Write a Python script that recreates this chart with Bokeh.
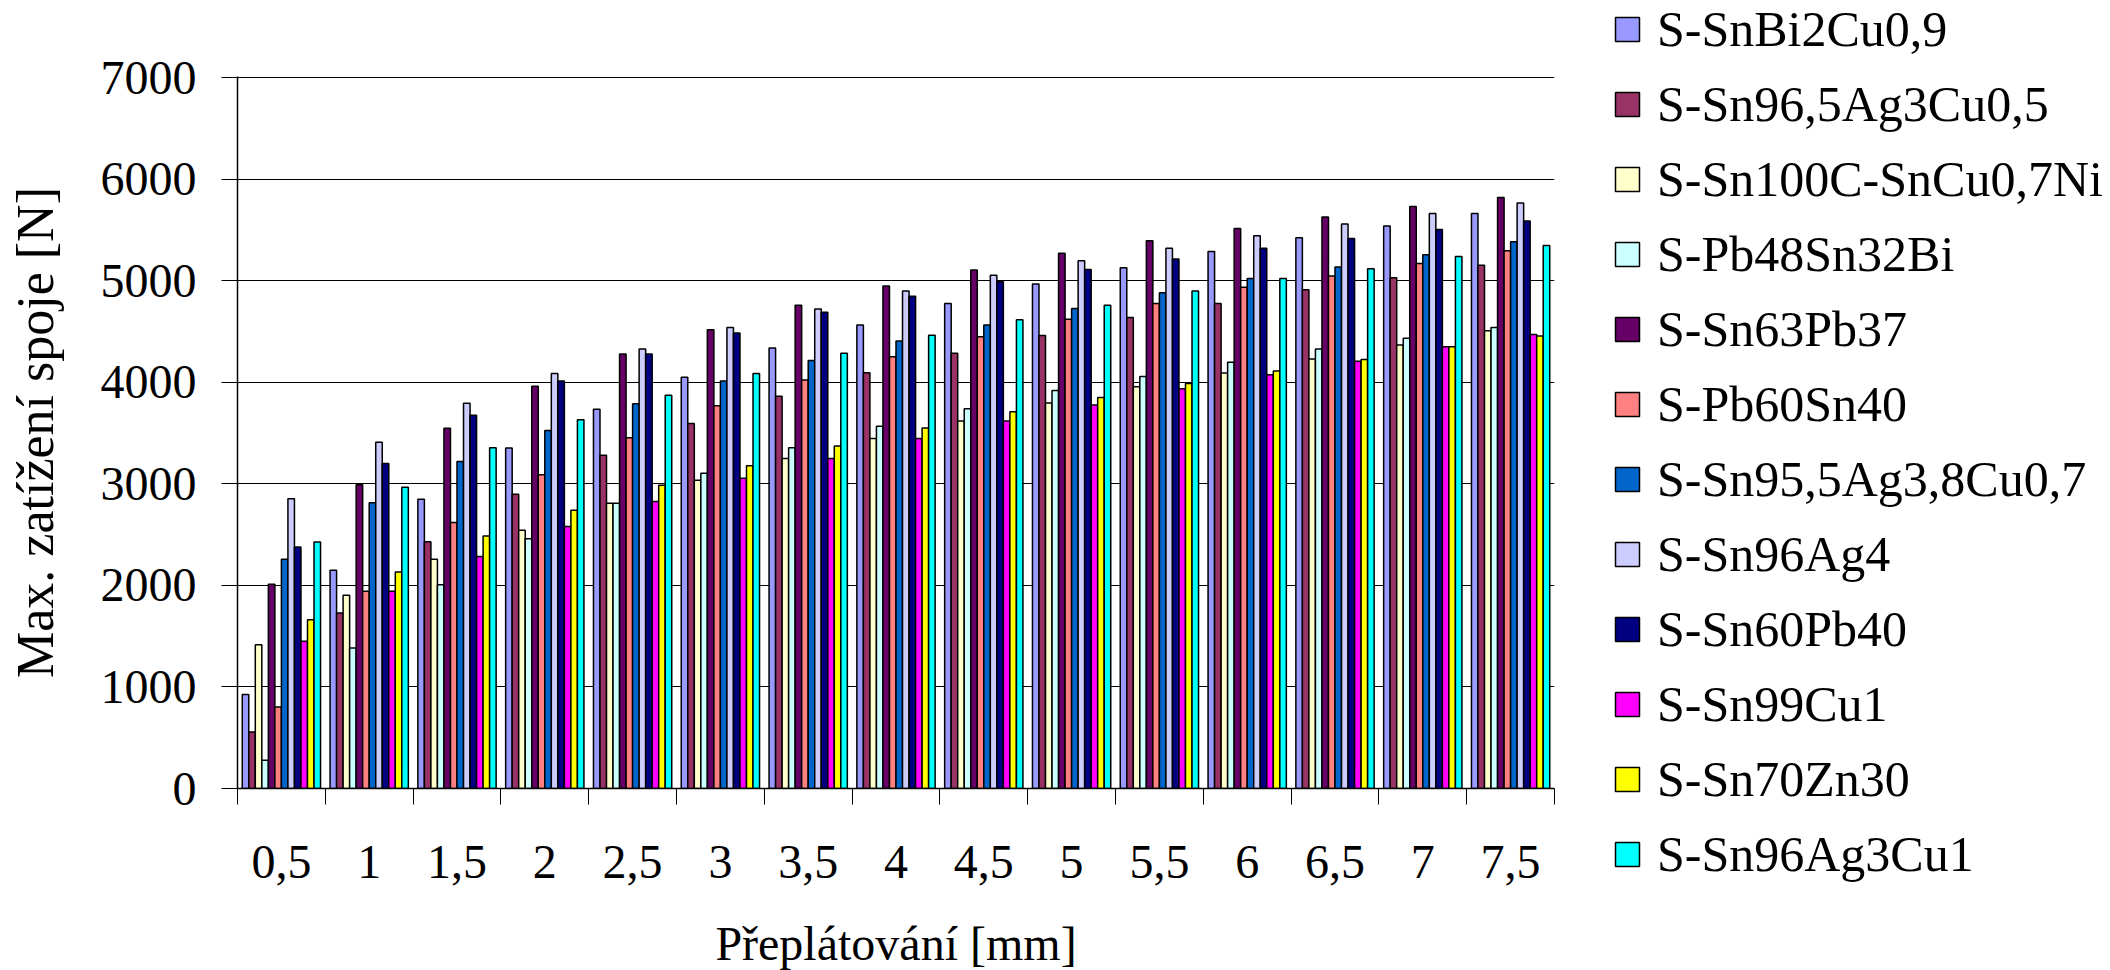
from bokeh.plotting import figure
from bokeh.models import (Range1d, FixedTicker, ColumnDataSource, Legend, LegendItem,
                          CustomJSTickFormatter)
from bokeh.transform import dodge
from bokeh.embed import file_html
from bokeh.resources import INLINE

categories = ["0,5", "1", "1,5", "2", "2,5", "3", "3,5", "4", "4,5", "5", "5,5", "6", "6,5", "7", "7,5"]

series_names = ["S-SnBi2Cu0,9", "S-Sn96,5Ag3Cu0,5", "S-Sn100C-SnCu0,7Ni", "S-Pb48Sn32Bi",
                "S-Sn63Pb37", "S-Pb60Sn40", "S-Sn95,5Ag3,8Cu0,7", "S-Sn96Ag4",
                "S-Sn60Pb40", "S-Sn99Cu1", "S-Sn70Zn30", "S-Sn96Ag3Cu1"]

SnBi2Cu09 = [925, 2148, 2849, 3352, 3735, 4049, 4337, 4563, 4774, 4967, 5127, 5286, 5422, 5538, 5660]
Sn965Ag3Cu05 = [557, 1728, 2430, 2897, 3280, 3594, 3863, 4093, 4285, 4461, 4637, 4776, 4910, 5029, 5151]
Sn100C_SnCu07Ni = [1416, 1902, 2256, 2543, 2808, 3034, 3249, 3445, 3618, 3796, 3955, 4090, 4228, 4366, 4508]
Pb48Sn32Bi = [279, 1384, 2007, 2458, 2808, 3103, 3355, 3566, 3739, 3918, 4057, 4196, 4328, 4433, 4538]
Sn63Pb37 = [2010, 2990, 3548, 3961, 4278, 4517, 4759, 4947, 5105, 5269, 5392, 5514, 5626, 5731, 5819]
Pb60Sn40 = [803, 1941, 2620, 3090, 3453, 3768, 4021, 4251, 4447, 4620, 4776, 4935, 5046, 5168, 5294]
Sn955Ag38Cu07 = [2256, 2813, 3220, 3525, 3787, 4013, 4213, 4405, 4563, 4727, 4882, 5020, 5134, 5256, 5382]
Sn96Ag4 = [2852, 3410, 3793, 4085, 4327, 4540, 4721, 4898, 5053, 5196, 5318, 5441, 5559, 5660, 5765]
Sn60Pb40 = [2377, 3200, 3675, 4013, 4278, 4484, 4688, 4846, 4989, 5110, 5212, 5318, 5416, 5504, 5588]
Sn99Cu1 = [1449, 1941, 2285, 2579, 2825, 3054, 3249, 3445, 3618, 3776, 3935, 4073, 4206, 4349, 4471]
Sn70Zn30 = [1662, 2131, 2485, 2740, 2985, 3178, 3373, 3550, 3709, 3849, 3988, 4110, 4223, 4349, 4454]
Sn96Ag3Cu1 = [2426, 2967, 3354, 3630, 3872, 4085, 4285, 4462, 4616, 4759, 4898, 5020, 5118, 5239, 5345]

series_values = [SnBi2Cu09, Sn965Ag3Cu05, Sn100C_SnCu07Ni, Pb48Sn32Bi, Sn63Pb37, Pb60Sn40,
                 Sn955Ag38Cu07, Sn96Ag4, Sn60Pb40, Sn99Cu1, Sn70Zn30, Sn96Ag3Cu1]

colors = ["#9999FF", "#993366", "#FFFFCC", "#CCFFFF", "#660066", "#FF8080",
          "#0066CC", "#CCCCFF", "#000080", "#FF00FF", "#FFFF00", "#00FFFF"]

y_ticks = [0, 1000, 2000, 3000, 4000, 5000, 6000, 7000]

FONT = "Liberation Serif"

n = len(categories)
x_centers = [i + 0.5 for i in range(n)]

p = figure(frame_width=1317, frame_height=712, output_backend="svg", toolbar_location=None,
           x_range=Range1d(0, n), y_range=Range1d(0, 7010),
           min_border_left=237, min_border_right=0, min_border_top=76, min_border_bottom=182)
p.outline_line_color = None
p.background_fill_color = "white"
p.border_fill_color = "white"

bar_w = 0.0743
items = []
for j, (name, vals) in enumerate(zip(series_names, series_values)):
    src = ColumnDataSource(dict(x=x_centers, top=vals))
    r = p.vbar(x=dodge("x", (j - 5.5) * bar_w), top="top", width=bar_w, source=src,
               fill_color=colors[j], line_color="black", line_width=1.5)
    items.append(LegendItem(label=name, renderers=[r]))

# axes
p.xgrid.visible = False
p.ygrid.grid_line_color = "black"
p.ygrid.grid_line_width = 1
p.yaxis.ticker = FixedTicker(ticks=y_ticks)
p.ygrid.ticker = FixedTicker(ticks=y_ticks)

p.xaxis.ticker = FixedTicker(ticks=x_centers, minor_ticks=list(range(n + 1)))
p.xaxis.formatter = CustomJSTickFormatter(args=dict(labels=categories),
                                          code="return labels[Math.floor(tick)];")
p.xaxis.major_tick_line_color = None
p.xaxis.major_tick_out = 0
p.xaxis.major_tick_in = 0
p.xaxis.minor_tick_out = 16
p.xaxis.minor_tick_in = 0
p.xaxis.minor_tick_line_color = "black"
p.xaxis.major_label_standoff = 41

p.yaxis.minor_tick_line_color = None
p.yaxis.major_tick_out = 16
p.yaxis.major_tick_in = 0
p.yaxis.major_label_standoff = 25

for ax in (p.xaxis[0], p.yaxis[0]):
    ax.axis_line_color = "black"
    ax.axis_line_width = 1.5
    ax.major_label_text_font = FONT
    ax.major_label_text_font_size = "48px"
    ax.major_label_text_color = "black"
    ax.axis_label_text_font = FONT
    ax.axis_label_text_font_size = "48px"
    ax.axis_label_text_font_style = "normal"
    ax.axis_label_text_color = "black"

p.xaxis.axis_label = "Přeplátování [mm]"
p.xaxis.axis_label_standoff = 36
p.yaxis.axis_label = "Max. zatížení spoje [N]"
p.yaxis.axis_label_text_font_size = "52px"
p.yaxis.axis_label_standoff = 34

legend = Legend(items=items, location=(58, -103))
legend.label_text_font = FONT
legend.label_text_font_size = "50px"
legend.label_text_color = "black"
legend.glyph_width = 30
legend.glyph_height = 30
legend.label_height = 75
legend.label_standoff = 15
legend.spacing = 0
legend.padding = 0
legend.margin = 0
legend.border_line_alpha = 0
legend.background_fill_alpha = 0
p.add_layout(legend, "right")

open("out.html", "w").write(file_html(p, INLINE))
